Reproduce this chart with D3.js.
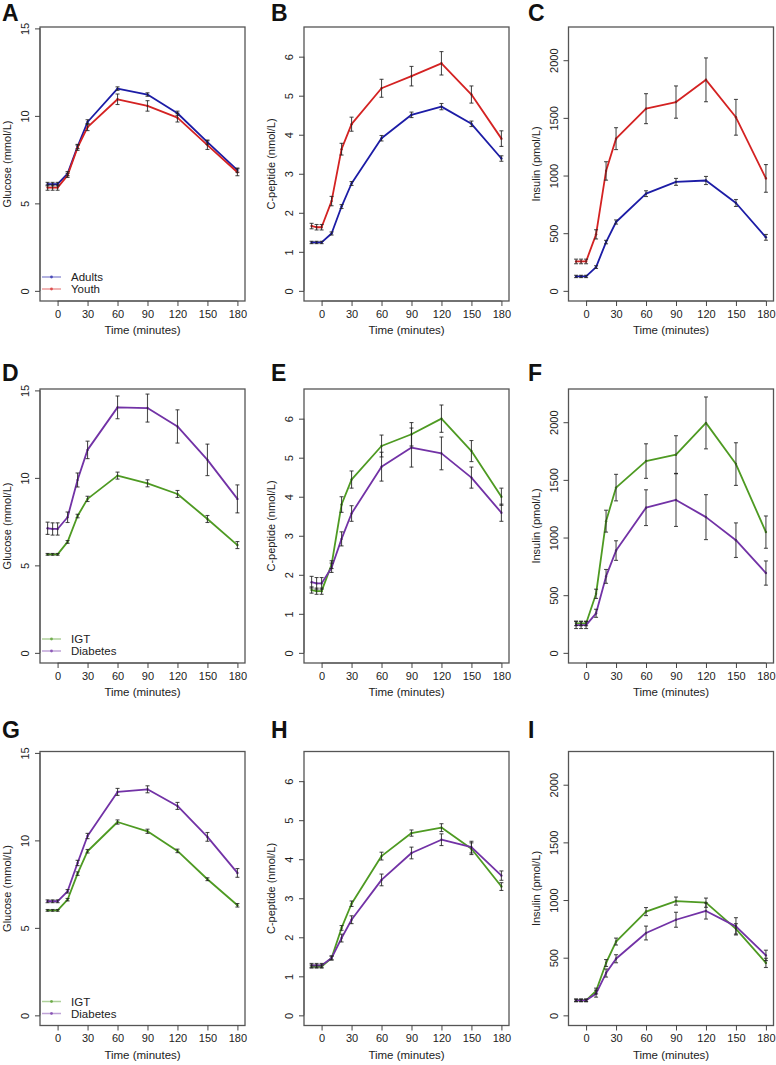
<!DOCTYPE html>
<html><head><meta charset="utf-8">
<script src="https://cdn.jsdelivr.net/npm/d3@7"></script>
<style>html,body{margin:0;padding:0;background:#fff;}svg{display:block;font-family:"Liberation Sans",Arial,sans-serif;}</style>
</head><body>
<svg id="chart" width="776" height="1065"></svg>
<script>
const time = [-10, -5, 0, 10, 20, 30, 60, 90, 120, 150, 180];
const xTicks = [0, 30, 60, 90, 120, 150, 180];
const glucoseTicks = [0, 5, 10, 15];
const cpepTicks = [0, 1, 2, 3, 4, 5, 6];
const insulinTicks = [0, 500, 1000, 1500, 2000];

// Panel A: glucose, adults vs youth
const glucAdults = [6.1, 6.1, 6.1, 6.7, 8.25, 9.65, 11.56, 11.22, 10.15, 8.5, 6.9];
const glucAdultsSE = [0.1, 0.1, 0.1, 0.12, 0.12, 0.13, 0.1, 0.1, 0.12, 0.12, 0.12];
const glucYouth = [5.9, 5.9, 5.9, 6.6, 8.18, 9.36, 10.95, 10.57, 9.9, 8.33, 6.78];
const glucYouthSE = [0.15, 0.15, 0.15, 0.12, 0.15, 0.2, 0.3, 0.3, 0.25, 0.25, 0.2];
// Panel B: C-peptide
const cpepAdults = [1.24, 1.24, 1.24, 1.47, 2.16, 2.75, 3.91, 4.51, 4.72, 4.28, 3.39];
const cpepAdultsSE = [0.03, 0.03, 0.03, 0.04, 0.05, 0.05, 0.07, 0.07, 0.08, 0.07, 0.07];
const cpepYouth = [1.66, 1.63, 1.63, 2.3, 3.63, 4.27, 5.19, 5.5, 5.83, 5.03, 3.9];
const cpepYouthSE = [0.07, 0.07, 0.07, 0.12, 0.15, 0.18, 0.23, 0.25, 0.3, 0.22, 0.2];
// Panel C: insulin
const insAdults = [125, 125, 125, 206, 423, 597, 843, 945, 957, 762, 464];
const insAdultsSE = [10, 10, 10, 12, 15, 18, 25, 30, 35, 30, 25];
const insYouth = [255, 255, 255, 490, 1040, 1320, 1580, 1637, 1830, 1505, 975];
const insYouthSE = [20, 20, 20, 40, 80, 95, 130, 140, 190, 155, 120];

// Panel D: glucose, IGT vs diabetes (youth)
const glucIgtY = [5.63, 5.63, 5.63, 6.34, 7.82, 8.8, 10.13, 9.69, 9.08, 7.65, 6.16];
const glucIgtYSE = [0.05, 0.05, 0.05, 0.08, 0.1, 0.15, 0.2, 0.2, 0.2, 0.2, 0.2];
const glucDiabY = [7.12, 7.08, 7.08, 7.75, 9.88, 11.6, 14.03, 13.99, 12.94, 11.03, 8.8];
const glucDiabYSE = [0.35, 0.35, 0.35, 0.3, 0.4, 0.5, 0.65, 0.8, 0.95, 0.9, 0.8];
// Panel E: C-peptide
const cpepIgtY = [1.61, 1.58, 1.58, 2.26, 3.8, 4.44, 5.3, 5.6, 6.0, 5.17, 4.0];
const cpepIgtYSE = [0.08, 0.08, 0.08, 0.1, 0.2, 0.22, 0.28, 0.3, 0.35, 0.27, 0.22];
const cpepDiabY = [1.81, 1.78, 1.78, 2.18, 2.92, 3.57, 4.77, 5.26, 5.11, 4.49, 3.59];
const cpepDiabYSE = [0.15, 0.15, 0.15, 0.12, 0.18, 0.2, 0.37, 0.5, 0.42, 0.27, 0.22];
// Panel F: insulin
const insIgtY = [256, 255, 255, 512, 1142, 1433, 1663, 1718, 1994, 1637, 1047];
const insIgtYSE = [20, 20, 20, 40, 95, 115, 150, 165, 225, 185, 140];
const insDiabY = [241, 241, 241, 343, 663, 887, 1259, 1326, 1177, 977, 692];
const insDiabYSE = [30, 30, 30, 35, 60, 85, 155, 230, 195, 150, 105];

// Panel G: glucose, IGT vs diabetes (adults)
const glucIgtA = [6.0, 6.0, 6.0, 6.61, 8.1, 9.38, 11.05, 10.52, 9.4, 7.78, 6.29];
const glucIgtASE = [0.05, 0.05, 0.05, 0.07, 0.1, 0.1, 0.12, 0.12, 0.1, 0.08, 0.1];
const glucDiabA = [6.52, 6.52, 6.52, 7.09, 8.71, 10.25, 12.77, 12.92, 11.97, 10.2, 8.14];
const glucDiabASE = [0.08, 0.08, 0.08, 0.1, 0.15, 0.15, 0.2, 0.2, 0.2, 0.25, 0.25];
// Panel H: C-peptide
const cpepIgtA = [1.25, 1.25, 1.25, 1.47, 2.24, 2.86, 4.08, 4.67, 4.81, 4.27, 3.3];
const cpepIgtASE = [0.04, 0.04, 0.04, 0.05, 0.06, 0.07, 0.1, 0.08, 0.1, 0.15, 0.1];
const cpepDiabA = [1.28, 1.28, 1.28, 1.47, 1.98, 2.45, 3.47, 4.16, 4.5, 4.31, 3.58];
const cpepDiabASE = [0.05, 0.05, 0.05, 0.05, 0.1, 0.1, 0.15, 0.15, 0.15, 0.15, 0.12];
// Panel I: insulin
const insIgtA = [130, 130, 130, 211, 454, 640, 900, 991, 977, 750, 455];
const insIgtASE = [10, 10, 10, 25, 30, 30, 35, 35, 40, 45, 40];
const insDiabA = [130, 130, 130, 188, 367, 491, 714, 829, 905, 772, 520];
const insDiabASE = [12, 12, 12, 30, 35, 35, 60, 65, 70, 75, 45];

const colAdults = "#1c1ca6", colYouth = "#d42222", colIgt = "#4e9a22", colDiab = "#7232a6";

const yGlucose = {label: "Glucose (mmol/L)", max: 14.5, ticks: glucoseTicks};
const yCpep = {label: "C-peptide (nmol/L)", max: 6.5, ticks: cpepTicks};
const yIns = {label: "Insulin (pmol/L)", max: 2200, ticks: insulinTicks};

const panels = [
  {letter: "A", col: 0, row: 0, y: yGlucose, legend: ["Adults", "Youth"], series: [
    {v: glucAdults, se: glucAdultsSE, c: colAdults}, {v: glucYouth, se: glucYouthSE, c: colYouth}]},
  {letter: "B", col: 1, row: 0, y: yCpep, series: [
    {v: cpepAdults, se: cpepAdultsSE, c: colAdults}, {v: cpepYouth, se: cpepYouthSE, c: colYouth}]},
  {letter: "C", col: 2, row: 0, y: yIns, series: [
    {v: insAdults, se: insAdultsSE, c: colAdults}, {v: insYouth, se: insYouthSE, c: colYouth}]},
  {letter: "D", col: 0, row: 1, y: yGlucose, legend: ["IGT", "Diabetes"], series: [
    {v: glucIgtY, se: glucIgtYSE, c: colIgt}, {v: glucDiabY, se: glucDiabYSE, c: colDiab}]},
  {letter: "E", col: 1, row: 1, y: yCpep, series: [
    {v: cpepIgtY, se: cpepIgtYSE, c: colIgt}, {v: cpepDiabY, se: cpepDiabYSE, c: colDiab}]},
  {letter: "F", col: 2, row: 1, y: yIns, series: [
    {v: insIgtY, se: insIgtYSE, c: colIgt}, {v: insDiabY, se: insDiabYSE, c: colDiab}]},
  {letter: "G", col: 0, row: 2, y: yGlucose, legend: ["IGT", "Diabetes"], series: [
    {v: glucIgtA, se: glucIgtASE, c: colIgt}, {v: glucDiabA, se: glucDiabASE, c: colDiab}]},
  {letter: "H", col: 1, row: 2, y: yCpep, series: [
    {v: cpepIgtA, se: cpepIgtASE, c: colIgt}, {v: cpepDiabA, se: cpepDiabASE, c: colDiab}]},
  {letter: "I", col: 2, row: 2, y: yIns, series: [
    {v: insIgtA, se: insIgtASE, c: colIgt}, {v: insDiabA, se: insDiabASE, c: colDiab}]}
];

const svg = d3.select("#chart");
const boxLeft = [40, 304, 568.5];
const boxW = 205;
const boxTop = [27, 389, 751.5];
const boxH = 274;
const letterX = [2, 271, 528];
const letterY = [21, 381, 738];

panels.forEach(p => {
  const x0 = boxLeft[p.col], y0 = boxTop[p.row];
  const xr = 190 * 0.04;
  const x = d3.scaleLinear().domain([-10 - xr, 180 + xr]).range([x0, x0 + boxW]);
  const yr = p.y.max * 0.04;
  const y = d3.scaleLinear().domain([-yr, p.y.max + yr]).range([y0 + boxH, y0]);
  const g = svg.append("g");

  g.append("text").attr("x", letterX[p.col]).attr("y", letterY[p.row])
    .attr("font-size", 23).attr("font-weight", "bold").attr("fill", "#111").text(p.letter);

  g.append("rect").attr("x", x0).attr("y", y0).attr("width", boxW).attr("height", boxH)
    .attr("fill", "none").attr("stroke", "#555").attr("stroke-width", 1.3);

  const xa = g.append("g").attr("transform", `translate(0,${y0 + boxH})`)
    .call(d3.axisBottom(x).tickValues(xTicks).tickSize(5).tickPadding(4).tickFormat(d3.format("d")));
  xa.select(".domain").attr("stroke", "#555").attr("d", `M${x(0)},0H${x(180)}`);
  xa.selectAll(".tick line").attr("stroke", "#444");
  xa.selectAll("text").attr("font-size", 11).attr("fill", "#222").attr("font-family", "Liberation Sans, Arial, sans-serif");

  const ya = g.append("g").attr("transform", `translate(${x0},0)`)
    .call(d3.axisLeft(y).tickValues(p.y.ticks).tickSize(5).tickFormat(d3.format("d")));
  ya.select(".domain").attr("stroke", "#555")
    .attr("d", `M0,${y(p.y.ticks[0])}V${y(p.y.ticks[p.y.ticks.length - 1])}`);
  ya.selectAll(".tick line").attr("stroke", "#444");
  ya.selectAll(".tick text").attr("font-size", 11).attr("fill", "#222")
    .attr("font-family", "Liberation Sans, Arial, sans-serif")
    .attr("x", null).attr("dy", null).attr("text-anchor", "middle")
    .attr("transform", "translate(-11,0) rotate(-90)");

  g.append("text").attr("transform", `translate(${x0 - 29},${y0 + boxH / 2}) rotate(-90)`)
    .attr("text-anchor", "middle").attr("font-size", 11).attr("fill", "#222").text(p.y.label);
  g.append("text").attr("x", x0 + boxW / 2).attr("y", y0 + boxH + 33)
    .attr("text-anchor", "middle").attr("font-size", 11.5).attr("fill", "#222").text("Time (minutes)");

  const line = d3.line().x((d, i) => x(time[i])).y(d => y(d));
  p.series.forEach(s => {
    g.append("path").datum(s.v).attr("d", line).attr("fill", "none")
      .attr("stroke", s.c).attr("stroke-width", 1.8).attr("stroke-linejoin", "round");
    g.selectAll(null).data(s.v).enter().append("circle")
      .attr("cx", (d, i) => x(time[i])).attr("cy", d => y(d)).attr("r", 1.2).attr("fill", s.c);
  });
  p.series.forEach(s => {
    const eb = g.append("g").attr("stroke", "#222").attr("stroke-opacity", 0.8).attr("stroke-width", 1.1);
    s.v.forEach((d, i) => {
      const cx = x(time[i]), lo = y(d - s.se[i]), hi = y(d + s.se[i]);
      eb.append("line").attr("x1", cx).attr("x2", cx).attr("y1", lo).attr("y2", hi);
      eb.append("line").attr("x1", cx - 2).attr("x2", cx + 2).attr("y1", lo).attr("y2", lo);
      eb.append("line").attr("x1", cx - 2).attr("x2", cx + 2).attr("y1", hi).attr("y2", hi);
    });
  });

  if (p.legend) {
    p.legend.forEach((name, k) => {
      const ly = y0 + boxH - 24 + k * 12;
      const c = p.series[k].c;
      g.append("line").attr("x1", x0 + 2).attr("x2", x0 + 21).attr("y1", ly).attr("y2", ly)
        .attr("stroke", c).attr("stroke-width", 1.5).attr("stroke-opacity", 0.45);
      g.append("circle").attr("cx", x0 + 11.5).attr("cy", ly).attr("r", 1.4).attr("fill", c).attr("fill-opacity", 0.7);
      g.append("text").attr("x", x0 + 31).attr("y", ly + 4).attr("font-size", 11.5).attr("fill", "#222").text(name);
    });
  }
});
</script>
</body></html>
